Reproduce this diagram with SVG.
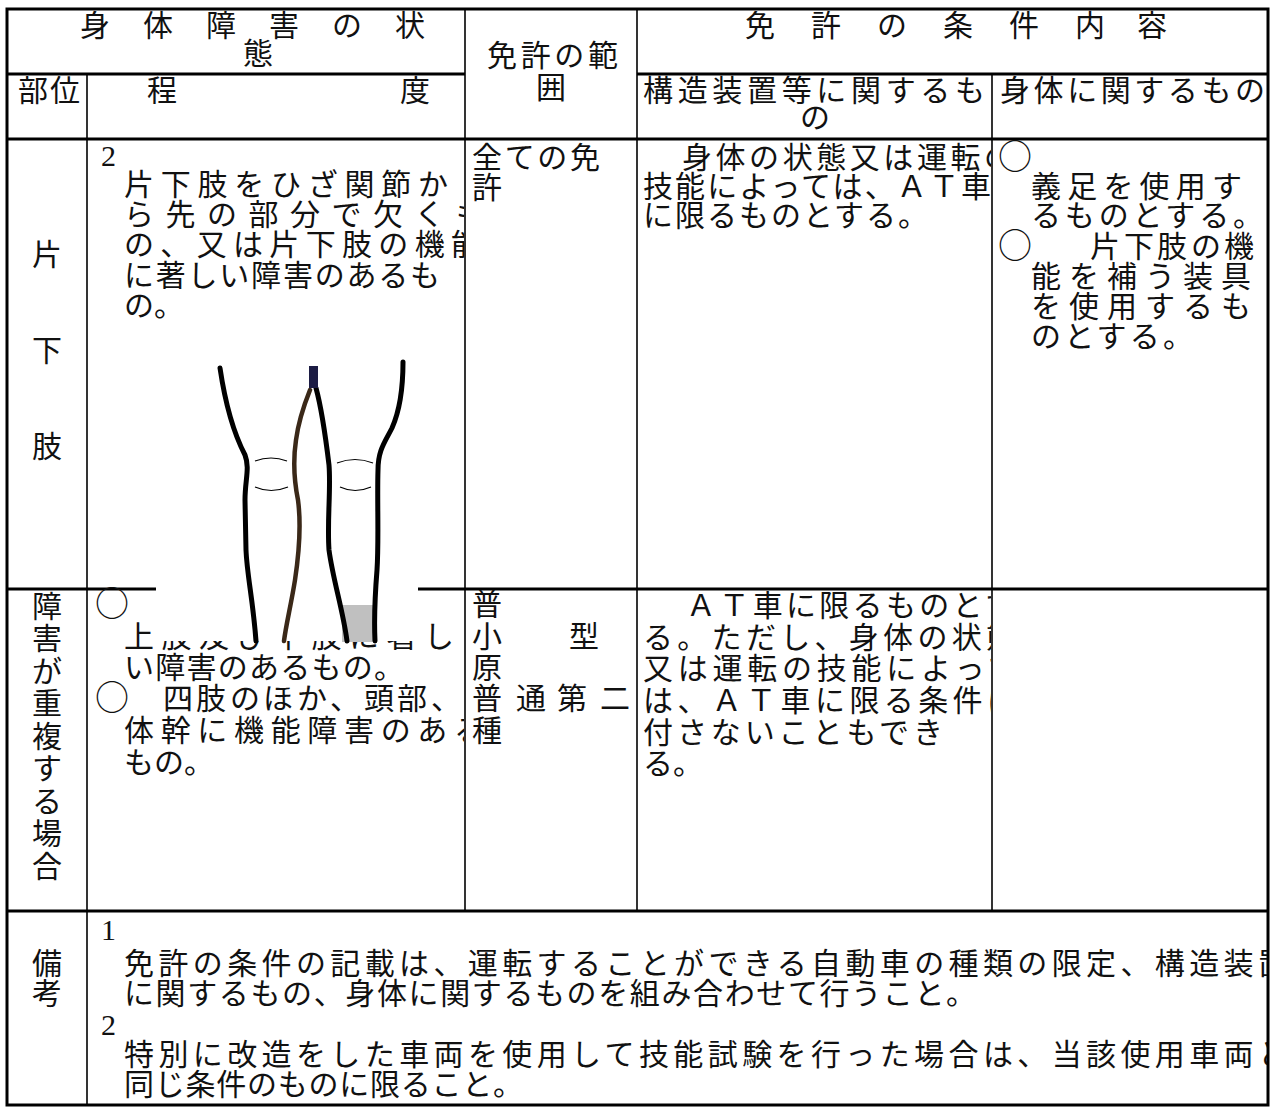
<svg xmlns="http://www.w3.org/2000/svg" width="1271" height="1113" viewBox="0 0 1271 1113">
<style>
.t{font-family:"Noto Sans CJK JP","Noto Sans CJK SC",sans-serif;font-size:30px;fill:#111}
.o{font-family:"Noto Sans CJK JP","Noto Sans CJK SC",sans-serif;font-size:34px;fill:#111}
.d{font-family:"Liberation Serif",serif;font-size:30px;fill:#111}
.c{text-anchor:middle}
.thick{stroke:#000;stroke-width:3;fill:none}
.thin{stroke:#000;stroke-width:1.6;fill:none}
.leg{stroke:#000;stroke-width:5;fill:none;stroke-linecap:round;stroke-linejoin:round}
.knee{stroke:#000;stroke-width:1.2;fill:none}
</style>
<defs>
<clipPath id="clip1"><rect x="88" y="140" width="376" height="770"/></clipPath>
<clipPath id="clip3"><rect x="638" y="140" width="353" height="770"/></clipPath>
<clipPath id="clipB"><rect x="88" y="912" width="1179" height="192"/></clipPath>
</defs>
<rect x="0" y="0" width="1271" height="1113" fill="#fff"/>
<g id="grid">
<line class="thin" x1="87" y1="74" x2="87" y2="1105"/>
<line class="thin" x1="465" y1="9" x2="465" y2="911"/>
<line class="thin" x1="637" y1="9" x2="637" y2="911"/>
<line class="thin" x1="992" y1="74" x2="992" y2="911"/>
<line class="thick" x1="7" y1="74" x2="465" y2="74"/>
<line class="thick" x1="637" y1="74" x2="1268" y2="74"/>
<line class="thick" x1="7" y1="139" x2="1268" y2="139"/>
<line class="thick" x1="7" y1="589" x2="1268" y2="589"/>
<line class="thick" x1="7" y1="911" x2="1268" y2="911"/>
<rect class="thick" x="7" y="9" width="1261" height="1096"/>
</g>
<g id="header-body-state">
<text class="t" x="80 143 206 269 332 395" y="36">身体障害の状</text>
<text class="t c" x="258" y="64">態</text>
</g>
<g id="header-license-range">
<text class="t" x="487" y="66" textLength="131" lengthAdjust="spacing">免許の範</text>
<text class="t c" x="551" y="98">囲</text>
</g>
<g id="header-conditions">
<text class="t" x="745 811 877 943 1009 1075 1137" y="36">免許の条件内容</text>
</g>
<g id="header-part"><text class="t" x="18" y="101" textLength="62" lengthAdjust="spacing">部位</text></g>
<g id="header-degree">
<text class="t" x="147" y="101">程</text>
<text class="t" x="400" y="101">度</text>
</g>
<g id="header-structure">
<text class="t" x="643" y="101" textLength="342" lengthAdjust="spacing">構造装置等に関するも</text>
<text class="t c" x="815" y="128">の</text>
</g>
<g id="header-body"><text class="t" x="1000" y="101" textLength="265" lengthAdjust="spacing">身体に関するもの</text></g>

<g id="row1-part">
<text class="t c" x="47" y="265">片</text>
<text class="t c" x="47" y="361">下</text>
<text class="t c" x="47" y="457">肢</text>
</g>
<g id="row1-degree" clip-path="url(#clip1)">
<text class="d" x="101" y="166">2</text>
<text class="t" x="124" y="195" textLength="324" lengthAdjust="spacing">片下肢をひざ関節か</text>
<text class="t" x="124" y="225" textLength="362" lengthAdjust="spacing">ら先の部分で欠くも</text>
<text class="t" x="124" y="255" textLength="357" lengthAdjust="spacing">の、又は片下肢の機能</text>
<text class="t" x="124" y="286" textLength="316" lengthAdjust="spacing">に著しい障害のあるも</text>
<text class="t" x="124" y="316">の。</text>
</g>
<g id="row1-range">
<text class="t" x="472" y="168" textLength="128" lengthAdjust="spacing">全ての免</text>
<text class="t" x="472" y="198">許</text>
</g>
<g id="row1-structure" clip-path="url(#clip3)">
<text class="t" x="682" y="168" textLength="332" lengthAdjust="spacing">身体の状態又は運転の</text>
<text class="t" x="643" y="197" textLength="348" lengthAdjust="spacing">技能によっては、ＡＴ車</text>
<text class="t" x="643" y="226" textLength="285" lengthAdjust="spacing">に限るものとする。</text>
</g>
<g id="row1-body">
<text class="o" x="998" y="169">○</text>
<text class="t" x="1031" y="197" textLength="211" lengthAdjust="spacing">義足を使用す</text>
<text class="t" x="1031" y="226" textLength="232" lengthAdjust="spacing">るものとする。</text>
<text class="o" x="998" y="258">○</text>
<text class="t" x="1090 1124 1157 1191 1224" y="257">片下肢の機</text>
<text class="t" x="1031" y="287" textLength="220" lengthAdjust="spacing">能を補う装具</text>
<text class="t" x="1031" y="317" textLength="220" lengthAdjust="spacing">を使用するも</text>
<text class="t" x="1031" y="347" textLength="162" lengthAdjust="spacing">のとする。</text>
</g>

<g id="row2-part">
<text class="t c" x="47" y="617">障</text>
<text class="t c" x="47" y="649">害</text>
<text class="t c" x="47" y="682">が</text>
<text class="t c" x="47" y="714">重</text>
<text class="t c" x="47" y="747">複</text>
<text class="t c" x="47" y="779">す</text>
<text class="t c" x="47" y="812">る</text>
<text class="t c" x="47" y="844">場</text>
<text class="t c" x="47" y="877">合</text>
</g>
<g id="row2-degree" clip-path="url(#clip1)">
<text class="o" x="95" y="616">○</text>
<text class="t" x="124" y="647" textLength="330" lengthAdjust="spacing">上肢及び下肢に著し</text>
<text class="t" x="124" y="678" textLength="280" lengthAdjust="spacing">い障害のあるもの。</text>
<text class="o" x="95" y="710">○</text>
<text class="t" x="163 196 230 263 297 330 364 397 431" y="709">四肢のほか、頭部、</text>
<text class="t" x="124" y="741" textLength="360" lengthAdjust="spacing">体幹に機能障害のある</text>
<text class="t" x="124" y="773">もの。</text>
</g>
<g id="row2-range">
<text class="t" x="472" y="615">普</text>
<text class="t" x="472 569" y="647">小型</text>
<text class="t" x="472" y="678">原</text>
<text class="t" x="472 516 557 600" y="709">普通第二</text>
<text class="t" x="472" y="741">種</text>
</g>
<g id="row2-structure" clip-path="url(#clip3)">
<text class="t" x="686" y="616" textLength="329" lengthAdjust="spacing">ＡＴ車に限るものとす</text>
<text class="t" x="643" y="648" textLength="373" lengthAdjust="spacing">る。ただし、身体の状態</text>
<text class="t" x="643" y="679" textLength="375" lengthAdjust="spacing">又は運転の技能によって</text>
<text class="t" x="643" y="711" textLength="374" lengthAdjust="spacing">は、ＡＴ車に限る条件は</text>
<text class="t" x="643" y="743" textLength="300" lengthAdjust="spacing">付さないこともでき</text>
<text class="t" x="643" y="774">る。</text>
</g>

<g id="remarks-label">
<text class="t c" x="47" y="974">備</text>
<text class="t c" x="47" y="1004">考</text>
</g>
<g id="remarks" clip-path="url(#clipB)">
<text class="d" x="101" y="940">1</text>
<text class="t" x="124" y="974" textLength="1164" lengthAdjust="spacing">免許の条件の記載は、運転することができる自動車の種類の限定、構造装置</text>
<text class="t" x="124" y="1004" textLength="852" lengthAdjust="spacing">に関するもの、身体に関するものを組み合わせて行うこと。</text>
<text class="d" x="101" y="1035">2</text>
<text class="t" x="124" y="1065" textLength="1164" lengthAdjust="spacing">特別に改造をした車両を使用して技能試験を行った場合は、当該使用車両と</text>
<text class="t" x="124" y="1095" textLength="399" lengthAdjust="spacing">同じ条件のものに限ること。</text>
</g>

<g id="illustration">
<rect x="156" y="356" width="262" height="285" fill="#fff"/>
<rect x="342" y="605" width="31" height="37" fill="#c0c0c0"/>
<path class="leg" d="M220,368 C224,395 232,430 245,455 C250,468 245,480 245,500 L246,550 C247,575 253,600 256,641"/>
<path d="M310,390 C302,410 298,425 296,440 C293,460 294,480 298,500 C302,530 298,560 295,580 C291,605 286,625 284,641" stroke="#3a2818" stroke-width="4.5" fill="none" stroke-linecap="round"/>
<path class="leg" d="M316,388 C322,410 326,440 329,465 C331,490 327,520 329,550 C333,580 343,610 347,641"/>
<path class="leg" d="M403,362 C403,390 400,410 392,428 C385,442 378,450 378,470 C377,500 379,540 377,570 C375,595 374,620 375,641"/>
<rect x="309" y="366" width="9" height="22" fill="#1c1c44"/>
<path class="knee" d="M255,461 Q271,455 287,461"/>
<path class="knee" d="M255,487 Q271,494 288,487"/>
<path class="knee" d="M337,463 Q355,456 373,463"/>
<path class="knee" d="M340,487 Q355,494 371,487"/>
</g>
</svg>
